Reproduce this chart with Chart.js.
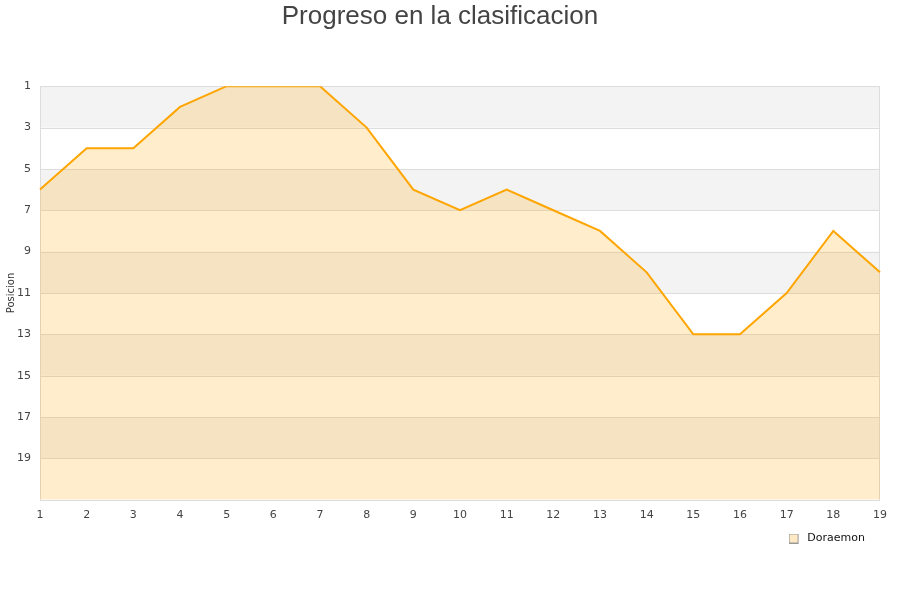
<!DOCTYPE html>
<html><head><meta charset="utf-8">
<script src="https://cdn.jsdelivr.net/npm/chart.js@4"></script>
<style>html,body{margin:0;padding:0;background:#fff;}#wrap{width:900px;height:600px;}</style>
</head><body><div id="wrap"><canvas id="c" width="900" height="600"></canvas></div>
<script>
const jornadas = ['1','2','3','4','5','6','7','8','9','10','11','12','13','14','15','16','17','18','19'];
const posiciones = [6,4,4,2,1,1,1,3,6,7,6,7,8,10,13,13,11,8,10];
const yTicks = [1,3,5,7,9,11,13,15,17,19];
const seriesName = 'Doraemon';

const legendMark = document.createElement('canvas');
legendMark.width = 13; legendMark.height = 10;
(function () {
  const g = legendMark.getContext('2d');
  g.fillStyle = '#ffe9c4'; g.fillRect(0.5, 0.5, 9, 9);
  g.strokeStyle = '#999999'; g.lineWidth = 1; g.strokeRect(0.5, 0.5, 9, 9);
})();

const bands = {
  id: 'bands',
  beforeDatasetsDraw(chart) {
    const {ctx, chartArea: a, scales: {y}} = chart;
    ctx.save();
    for (let v = 1; v < 21; v += 4) {
      const y1 = y.getPixelForValue(v), y2 = y.getPixelForValue(v + 2);
      ctx.fillStyle = '#f3f3f3';
      ctx.fillRect(a.left, y1, a.right - a.left, y2 - y1);
    }
    ctx.strokeStyle = '#dddddd'; ctx.lineWidth = 1;
    yTicks.concat([21]).forEach(v => {
      const p = Math.round(y.getPixelForValue(v)) + 0.5;
      ctx.beginPath(); ctx.moveTo(a.left, p); ctx.lineTo(a.right, p); ctx.stroke();
    });
    ctx.beginPath();
    ctx.moveTo(Math.round(a.left)+0.5, a.top); ctx.lineTo(Math.round(a.left)+0.5, a.bottom);
    ctx.moveTo(Math.round(a.right)-0.5, a.top); ctx.lineTo(Math.round(a.right)-0.5, a.bottom);
    ctx.stroke();
    ctx.restore();
  }
};

new Chart(document.getElementById('c'), {
  type: 'line',
  data: {
    labels: jornadas,
    datasets: [{
      label: seriesName,
      data: posiciones,
      borderColor: '#FFA500',
      backgroundColor: 'rgba(255,165,0,0.2)',
      borderWidth: 2,
      pointRadius: 0,
      tension: 0,
      fill: {value: 21}
    }]
  },
  options: {
    responsive: false,
    animation: false,
    layout: {padding: {left: 0, right: 20, top: 0, bottom: 46}},
    plugins: {
      title: {
        display: true,
        text: 'Progreso en la clasificacion',
        color: '#444',
        font: {family: 'Liberation Sans', size: 26, weight: 'normal'},
        padding: {top: 1, bottom: 54}
      },
      legend: {
        position: 'bottom',
        align: 'end',
        labels: {
          usePointStyle: true, pointStyleWidth: 13.5, boxHeight: 9,
          color: '#111', padding: 15,
          font: {family: 'DejaVu Sans', size: 11},
          generateLabels(chart) {
            return chart.data.datasets.map((d, i) => ({
              text: d.label, pointStyle: legendMark, fillStyle: '#ffe9c4', strokeStyle: '#999999',
              lineWidth: 1, hidden: false, datasetIndex: i, fontColor: '#111'
            }));
          }
        }
      },
      tooltip: {enabled: false}
    },
    scales: {
      x: {
        offset: false,
        grid: {display: false},
        border: {display: false},
        afterFit(s) { s.height -= 5; },
        ticks: {color: '#444', font: {family: 'DejaVu Sans', size: 11}, maxRotation: 0, autoSkip: false, padding: 1}
      },
      y: {
        reverse: true,
        min: 1, max: 21,
        grid: {display: false},
        border: {display: false},
        afterBuildTicks(s) { s.ticks = yTicks.concat([21]).map(v => ({value: v})); },
        afterFit(s) { s.width = 40; },
        ticks: {
          color: '#444', font: {family: 'DejaVu Sans', size: 11}, padding: 1,
          callback: v => (v === 21 ? '' : String(v))
        },
        title: {display: true, text: 'Posicion', color: '#333', font: {family: 'DejaVu Sans', size: 10}, padding: {top: 5, bottom: 0}}
      }
    }
  },
  plugins: [bands]
});
</script></body></html>
